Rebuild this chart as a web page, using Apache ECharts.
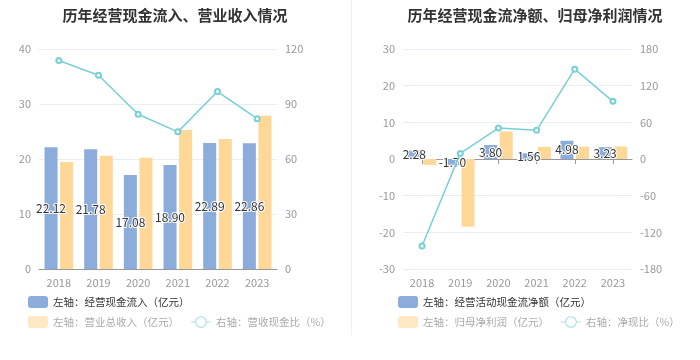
<!DOCTYPE html>
<html><head><meta charset="utf-8">
<script src="https://cdn.jsdelivr.net/npm/echarts@6/dist/echarts.min.js"></script>
<style>html,body{margin:0;padding:0;background:#fff}#c{width:700px;height:360px}</style>
</head><body><div id="c"></div>
<script>
var years = ['2018','2019','2020','2021','2022','2023'];
// left chart
var cashIn = [22.12, 21.78, 17.08, 18.90, 22.89, 22.86];
var revenue = [19.45, 20.6, 20.24, 25.27, 23.64, 27.88];
var cashRevRatio = [113.7, 105.7, 84.4, 74.8, 96.8, 82.0];
// right chart
var netCash = [2.28, -1.70, 3.80, 1.56, 4.98, 3.23];
var netProfit = [-1.6, -18.46, 7.5, 3.32, 3.39, 3.42];
var netRatio = [-142.5, 9.2, 50.6, 47.0, 147.0, 94.4];
var leftTicks = [0, 40, 10];
var rightTicks = [0, 120, 30];
var left2Ticks = [-30, 30, 10];
var right2Ticks = [-180, 180, 60];

var names1 = ['左轴：经营现金流入（亿元）','左轴：营业总收入（亿元）','右轴：营收现金比（%）'];
var names2 = ['左轴：经营活动现金流净额（亿元）','左轴：归母净利润（亿元）','右轴：净现比（%）'];

var BLUE = '#8cacdb', YEL = '#ffd797', LINE = '#78d0d7';
var FONT = '"Noto Sans CJK SC", "Noto Sans", sans-serif';
var axisLabel = {color:'#999', fontSize:11, fontFamily:FONT};
var splitLine = {show:true, lineStyle:{color:'#e9eef6'}};
var valLabel = {show:true, position:'inside', color:'#333', fontSize:12, fontFamily:FONT,
  textBorderColor:'#fff', textBorderWidth:2, formatter:function(p){return p.value.toFixed(2);}};
var RING = 'path://M0,5.4 L4.6,5.4 L4.6,6.6 L0,6.6 Z M15.4,5.4 L20,5.4 L20,6.6 L15.4,6.6 Z M10,0 A6,6 0 1 1 9.99,0 Z M10,1.3 A4.7,4.7 0 1 0 10.01,1.3 Z';

function legendItems(names){
  return [
    {name:names[0], itemStyle:{color:BLUE}, textStyle:{color:'#333'}},
    {name:names[1], itemStyle:{color:'#ffe8c4'}, textStyle:{color:'#aaa'}},
    {name:names[2], icon:RING, itemStyle:{color:'#b0e3e8', borderWidth:0}, textStyle:{color:'#aaa'}}
  ];
}

var chart = echarts.init(document.getElementById('c'), null, {renderer:'canvas'});
var l1 = legendItems(names1), l2 = legendItems(names2);
var legendBase = {itemWidth:20, itemHeight:12, itemGap:12, width:320, textStyle:{fontSize:10.5, fontFamily:FONT}, selectedMode:false, padding:0};
chart.setOption({
  animation:false,
  title:[
    {text:'历年经营现金流入、营业收入情况', left:170, top:3, textAlign:'center', textStyle:{fontSize:15, fontWeight:'bold', color:'#333', fontFamily:FONT}},
    {text:'历年经营现金流净额、归母净利润情况', left:530, top:3, textAlign:'center', textStyle:{fontSize:15, fontWeight:'bold', color:'#333', fontFamily:FONT}}
  ],
  graphic:[{type:'line', shape:{x1:351.5,y1:0,x2:351.5,y2:335}, style:{stroke:'#f0f0f0', lineWidth:1}}],
  legend:[
    Object.assign({}, legendBase, {data:[l1[0]], left:28, top:296}),
    Object.assign({}, legendBase, {data:[l1[1], l1[2]], left:28, top:316}),
    Object.assign({}, legendBase, {data:[l2[0]], left:398, top:296}),
    Object.assign({}, legendBase, {data:[l2[1], l2[2]], left:398, top:316})
  ],
  grid:[
    {left:39, top:49, width:238, height:220},
    {left:403, top:49, width:229, height:220}
  ],
  xAxis:[
    {type:'category', gridIndex:0, data:years, axisLine:{lineStyle:{color:'#999'}}, axisTick:{alignWithLabel:true, lineStyle:{color:'#999'}}, axisLabel:axisLabel},
    {type:'category', gridIndex:1, data:years, position:'bottom', axisLine:{show:false, onZero:false}, axisTick:{show:false}, axisLabel:axisLabel},
    {type:'category', gridIndex:1, data:years, position:'bottom', axisLine:{show:true, onZero:true, lineStyle:{color:'#999'}}, axisTick:{show:true, alignWithLabel:true, lineStyle:{color:'#999'}}, axisLabel:{show:false}}
  ],
  yAxis:[
    {type:'value', gridIndex:0, min:leftTicks[0], max:leftTicks[1], interval:leftTicks[2], axisLabel:axisLabel, splitLine:splitLine, axisLine:{show:false}, axisTick:{show:false}},
    {type:'value', gridIndex:0, min:rightTicks[0], max:rightTicks[1], interval:rightTicks[2], position:'right', axisLabel:axisLabel, splitLine:{show:false}, axisLine:{show:false}, axisTick:{show:false}},
    {type:'value', gridIndex:1, min:left2Ticks[0], max:left2Ticks[1], interval:left2Ticks[2], axisLabel:axisLabel, splitLine:splitLine, axisLine:{show:false}, axisTick:{show:false}},
    {type:'value', gridIndex:1, min:right2Ticks[0], max:right2Ticks[1], interval:right2Ticks[2], position:'right', axisLabel:axisLabel, splitLine:{show:false}, axisLine:{show:false}, axisTick:{show:false}}
  ],
  series:[
    {name:names1[0], type:'bar', xAxisIndex:0, yAxisIndex:0, data:cashIn, barWidth:13, barGap:'20%', itemStyle:{color:BLUE}, label:valLabel, z:3},
    {name:names1[1], type:'bar', xAxisIndex:0, yAxisIndex:0, data:revenue, barWidth:13, barGap:'20%', itemStyle:{color:YEL}, z:2},
    {name:names1[2], type:'line', xAxisIndex:0, yAxisIndex:1, data:cashRevRatio, symbol:'emptyCircle', symbolSize:5, lineStyle:{color:LINE, width:1.5}, itemStyle:{color:LINE}, z:4},
    {name:names2[0], type:'bar', xAxisIndex:1, yAxisIndex:2, data:netCash, barWidth:13, barGap:'20%', itemStyle:{color:BLUE}, label:valLabel, z:3},
    {name:names2[1], type:'bar', xAxisIndex:1, yAxisIndex:2, data:netProfit, barWidth:13, barGap:'20%', itemStyle:{color:YEL}, z:2},
    {name:names2[2], type:'line', xAxisIndex:1, yAxisIndex:3, data:netRatio, symbol:'emptyCircle', symbolSize:5, lineStyle:{color:LINE, width:1.5}, itemStyle:{color:LINE}, z:4}
  ]
});
</script></body></html>
